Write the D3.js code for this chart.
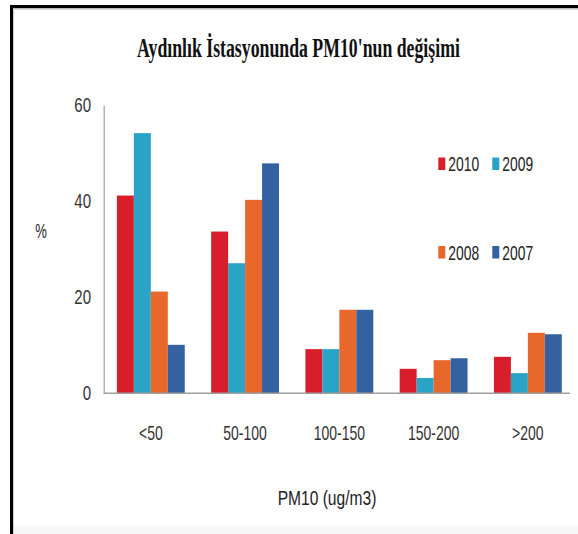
<!DOCTYPE html>
<html><head><meta charset="utf-8">
<script src="https://cdn.jsdelivr.net/npm/d3@7"></script>
<style>html,body{margin:0;padding:0;background:#fff;}svg{display:block;}</style>
</head><body>
<script>
const categories = ["<50", "50-100", "100-150", "150-200", ">200"];
const seriesNames = ["2010", "2009", "2008", "2007"];
const v2010 = [41.2, 33.7, 9.2, 5.1, 7.6];
const v2009 = [54.2, 27.1, 9.2, 3.2, 4.2];
const v2008 = [21.2, 40.3, 17.4, 6.9, 12.6];
const v2007 = [10.1, 47.9, 17.4, 7.3, 12.3];
const yTicks = [0, 20, 40, 60];
const titleText = "Aydınlık İstasyonunda PM10'nun değişimi";
const yTitle = "%";
const xTitle = "PM10 (ug/m3)";

const seriesValues = [v2010, v2009, v2008, v2007];
const colors = ["#d81e2a", "#2aa3c6", "#e8672a", "#34619f"];

const W = 578, H = 534;
const svg = d3.select("body").append("svg").attr("width", W).attr("height", H);
svg.append("rect").attr("width", W).attr("height", H).attr("fill", "#fff");

// frame
svg.append("rect").attr("x", 10).attr("y", 5).attr("width", W - 10).attr("height", 3).attr("fill", "#000");
svg.append("rect").attr("x", 10).attr("y", 5).attr("width", 3).attr("height", H - 5).attr("fill", "#000");
svg.append("rect").attr("x", 13).attr("y", 8).attr("width", W - 13).attr("height", 1.5).attr("fill", "#b8b8b8");
svg.append("rect").attr("x", 13).attr("y", 8).attr("width", 1).attr("height", H - 8).attr("fill", "#cfcfcf");
svg.append("rect").attr("x", 14).attr("y", H - 8).attr("width", W - 14).attr("height", 8).attr("fill", "#f6f6f6");

const x0 = d3.scaleBand().domain(categories).range([103.7, 575]).paddingInner(0.28).paddingOuter(0.14);
const x1 = d3.scaleBand().domain(seriesNames).range([0, x0.bandwidth()]).padding(0);
const y = d3.scaleLinear().domain([0, 60]).range([393.3, 105.3]);

const sansFont = "Liberation Sans, Arial, sans-serif";

function squeezedText(g, x, yy, txt, size, sx, anchor, color) {
  const gg = g.append("g").attr("transform", `translate(${x},${yy}) scale(${sx},1)`);
  gg.append("text").attr("x", 0).attr("y", 0)
    .attr("text-anchor", anchor).attr("dominant-baseline", "central")
    .attr("font-family", sansFont).attr("font-size", size)
    .attr("fill", color || "#222").text(txt);
  return gg;
}

// title: condensed bold serif, fitted to the reference's width
const tg = svg.append("g");
const tt = tg.append("text").attr("x", 0).attr("y", 0)
  .attr("font-family", "Liberation Serif, Times New Roman, serif")
  .attr("font-weight", "bold").attr("font-size", 27)
  .attr("fill", "#111").text(titleText);
const natural = tt.node().getComputedTextLength();
const titleWidth = 323;
tg.attr("transform", `translate(137,57) scale(${titleWidth / natural},1)`);

// bars
const gBars = svg.append("g");
categories.forEach((c, ci) => {
  seriesNames.forEach((s, si) => {
    const v = seriesValues[si][ci];
    gBars.append("rect")
      .attr("x", x0(c) + x1(s))
      .attr("y", y(v))
      .attr("width", x1.bandwidth())
      .attr("height", y(0) - y(v))
      .attr("fill", colors[si]);
  });
});

// axes
const yAxis = d3.axisLeft(y).tickValues(yTicks).tickSize(0).tickPadding(12);
const gy = svg.append("g").attr("transform", `translate(103.7,0)`).call(yAxis);
gy.select(".domain").attr("stroke", "#a0a0a0").attr("stroke-width", 1.2);
gy.selectAll(".tick text").remove();
yTicks.forEach(t => squeezedText(svg, 91, y(t), String(t), 20, 0.75, "end", "#333"));

const xAxis = d3.axisBottom(x0).tickSize(0).tickPadding(0);
const gx = svg.append("g").attr("transform", `translate(0,${y(0)})`).call(xAxis);
gx.select(".domain").attr("d", `M103.7,0H570`).attr("stroke", "#a0a0a0").attr("stroke-width", 1.5);
gx.selectAll(".tick text").remove();
categories.forEach(c => squeezedText(svg, x0(c) + x0.bandwidth() / 2, 433, c, 20, 0.7, "middle", "#333"));

// axis titles
squeezedText(svg, 41, 231, yTitle, 20, 0.65, "middle", "#222");
squeezedText(svg, 327, 498, xTitle, 20, 0.78, "middle", "#222");

// legend
const legendPos = [[438.3, 164], [492.3, 164], [438.3, 252.5], [492.3, 252.5]];
seriesNames.forEach((s, i) => {
  const [lx, ly] = legendPos[i];
  svg.append("rect").attr("x", lx).attr("y", ly - 6.5).attr("width", 7).attr("height", 12.5).attr("fill", colors[i]);
  squeezedText(svg, lx + 10, ly, s, 21, 0.66, "start", "#222");
});
</script>
</body></html>
